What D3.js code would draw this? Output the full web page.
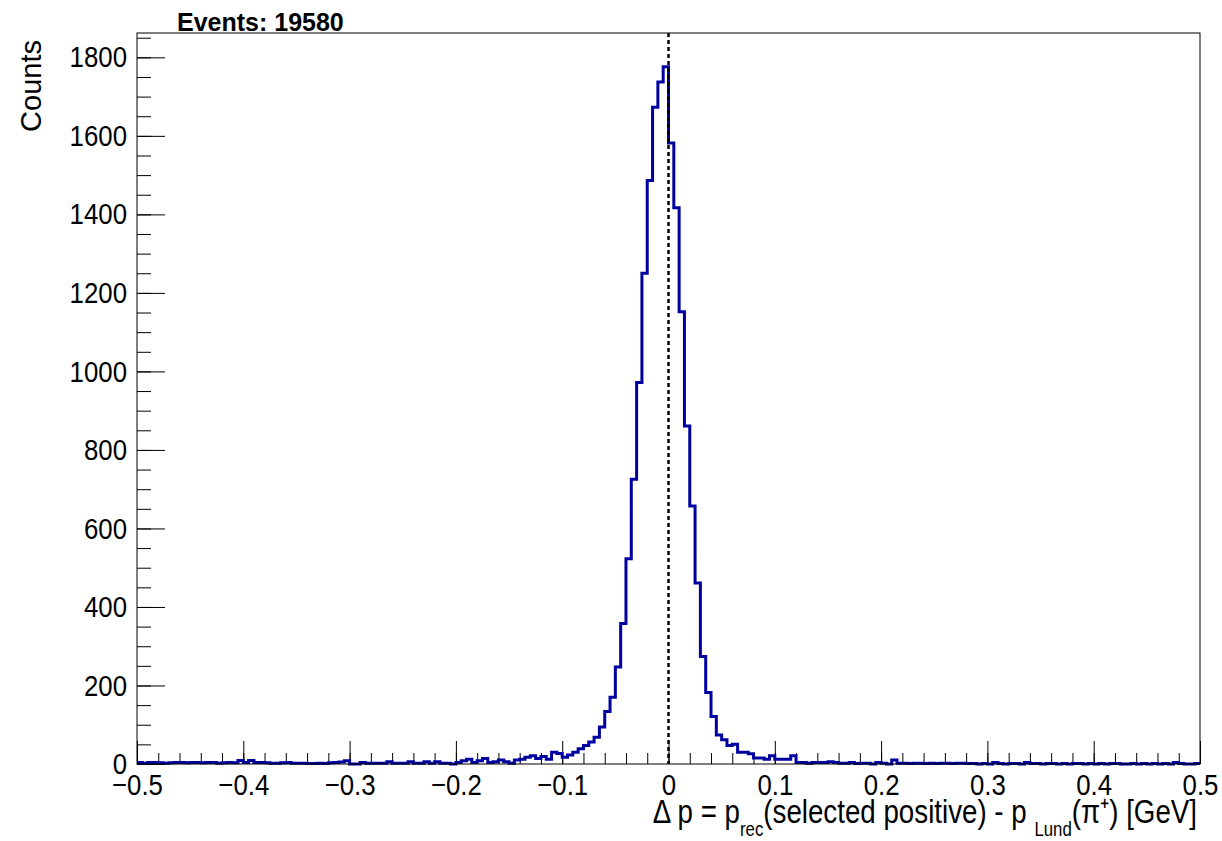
<!DOCTYPE html>
<html>
<head>
<meta charset="utf-8">
<script src="https://cdn.jsdelivr.net/npm/d3@7"></script>
<style>
  body { margin: 0; background: #fff; }
  svg { font-family: "Liberation Sans", Arial, sans-serif; }
</style>
</head>
<body>
<svg></svg>
<script>
// Constants
const width = 1222;
const height = 841;

const frameLeft = 137;
const frameRight = 1200;
const frameTop = 33;
const frameBottom = 764;

// ROOT text looks condensed, so squeeze the Liberation glyphs a bit
const labelSqueeze = 0.86;
const titleSqueeze = 0.84;

// data: 200 bins of 0.005 GeV from -0.5 to 0.5
const xMin = -0.5;
const xMax = 0.5;
const binWidth = 0.005;
const yMax = 1862;

const counts = [
    4, 2, 4, 4, 3, 2, 3, 4, 4, 3,
    4, 4, 3, 4, 4, 2, 3, 4, 3, 9,
    4, 9, 4, 4, 3, 2, 2, 3, 4, 2,
    2, 2, 1, 1, 2, 1, 3, 4, 5, 8,
    0, 0, 4, 2, 2, 2, 2, 6, 2, 2,
    2, 6, 2, 2, 6, 2, 6, 2, 2, 0,
    4, 8, 12, 4, 8, 14, 4, 6, 10, 6,
    2, 10, 12, 17, 21, 14, 19, 12, 30, 27,
    17, 23, 30, 39, 47, 56, 68, 94, 134, 170,
    247, 358, 523, 725, 972, 1250, 1486, 1673, 1737, 1776,
    1582, 1417, 1152, 861, 657, 461, 274, 182, 121, 74,
    62, 47, 50, 30, 30, 26, 15, 15, 12, 21,
    12, 12, 12, 21, 4, 4, 2, 4, 4, 4,
    6, 4, 2, 2, 4, 1, 2, 2, 0, 4,
    2, 0, 10, 2, 2, 1, 2, 2, 1, 2,
    1, 2, 2, 1, 2, 2, 1, 1, 0, 1,
    0, 4, 1, 0, 1, 1, 0, 4, 1, 1,
    0, 1, 1, 0, 1, 0, 1, 1, 0, 1,
    0, 1, 0, 1, 1, 0, 0, 1, 0, 1,
    0, 1, 0, 1, 0, 4, 1, 0, 0, 1
];

const xMajorTicks = [-0.5, -0.4, -0.3, -0.2, -0.1, 0, 0.1, 0.2, 0.3, 0.4, 0.5];
const xMinorTicks = d3.range(-25, 26).map(i => i * 0.02);
const yMajorTicks = [0, 200, 400, 600, 800, 1000, 1200, 1400, 1600, 1800];
const yMinorTicks = d3.range(0, 38).map(i => i * 50);

const eventsLabel = 'Events: 19580';

// svg
const svg = d3.select('svg')
    .attr('width', width)
    .attr('height', height);

// scales
const xScale = d3.scaleLinear()
    .domain([xMin, xMax])
    .range([frameLeft, frameRight]);

const yScale = d3.scaleLinear()
    .domain([0, yMax])
    .range([frameBottom, frameTop]);

const fmtX = d => d === 0 ? '0' : d3.format('.1f')(d);
const fmtY = d3.format('d');

// xAxis minor ticks
svg.append('g')
    .attr('transform', `translate(0, ${frameBottom})`)
    .call(d3.axisBottom(xScale).tickValues(xMinorTicks).tickSize(-11).tickFormat(''))
    .call(g => g.select('.domain').remove())
    .call(g => g.selectAll('line').attr('stroke', '#000'));

// xAxis major ticks
svg.append('g')
    .attr('transform', `translate(0, ${frameBottom})`)
    .call(d3.axisBottom(xScale).tickValues(xMajorTicks).tickSize(-23).tickPadding(10).tickFormat(fmtX))
    .call(g => g.select('.domain').remove())
    .call(g => g.selectAll('line').attr('stroke', '#000'))
    .call(g => g.selectAll('text')
        .attr('font-size', 30)
        .attr('transform', `scale(${labelSqueeze}, 1)`)
        .attr('fill', '#000'));

// yAxis minor ticks
svg.append('g')
    .attr('transform', `translate(${frameLeft}, 0)`)
    .call(d3.axisLeft(yScale).tickValues(yMinorTicks).tickSize(-14).tickFormat(''))
    .call(g => g.select('.domain').remove())
    .call(g => g.selectAll('line').attr('stroke', '#000'));

// yAxis major ticks
svg.append('g')
    .attr('transform', `translate(${frameLeft}, 0)`)
    .call(d3.axisLeft(yScale).tickValues(yMajorTicks).tickSize(-28).tickPadding(10).tickFormat(fmtY))
    .call(g => g.select('.domain').remove())
    .call(g => g.selectAll('line').attr('stroke', '#000'))
    .call(g => g.selectAll('text')
        .attr('font-size', 30)
        .attr('x', -10 / labelSqueeze)
        .attr('transform', `scale(${labelSqueeze}, 1)`)
        .attr('fill', '#000'));

// histogram
const steps = counts.map((c, i) => ({ x: xMin + i * binWidth, y: c }));
steps.push({ x: xMax, y: counts[counts.length - 1] });

const stepLine = d3.line()
    .x(d => xScale(d.x))
    .y(d => yScale(d.y))
    .curve(d3.curveStepAfter);

svg.append('path')
    .datum(steps)
    .attr('d', stepLine)
    .attr('fill', 'none')
    .attr('stroke', '#0000a0')
    .attr('stroke-width', 3);

// zero line
svg.append('line')
    .attr('x1', xScale(0))
    .attr('x2', xScale(0))
    .attr('y1', yScale(yMax))
    .attr('y2', yScale(0))
    .attr('stroke', '#000')
    .attr('stroke-width', 2.5)
    .attr('stroke-dasharray', '4,3');

// frame
svg.append('rect')
    .attr('x', frameLeft)
    .attr('y', frameTop)
    .attr('width', frameRight - frameLeft)
    .attr('height', frameBottom - frameTop)
    .attr('fill', 'none')
    .attr('stroke', '#000')
    .attr('stroke-width', 1);

// titles
svg.append('text')
    .attr('x', 177)
    .attr('y', 31)
    .attr('font-size', 25)
    .attr('font-weight', 'bold')
    .text(eventsLabel);

svg.append('text')
    .attr('transform', 'translate(41, 40) rotate(-90)')
    .attr('text-anchor', 'end')
    .attr('font-size', 29)
    .text('Counts');

const xTitle = svg.append('g')
    .attr('transform', `translate(1197, 823) scale(${titleSqueeze}, 1)`)
    .append('text')
    .attr('text-anchor', 'end')
    .attr('font-size', 33);

xTitle.append('tspan').text('Δ p = p');
xTitle.append('tspan').attr('dy', 13).attr('font-size', 20).text('rec');
xTitle.append('tspan').attr('dy', -13).text('(selected positive) - p ');
xTitle.append('tspan').attr('dy', 13).attr('font-size', 20).text('Lund');
xTitle.append('tspan').attr('dy', -13).text('(π⁺) [GeV]');
</script>
</body>
</html>
